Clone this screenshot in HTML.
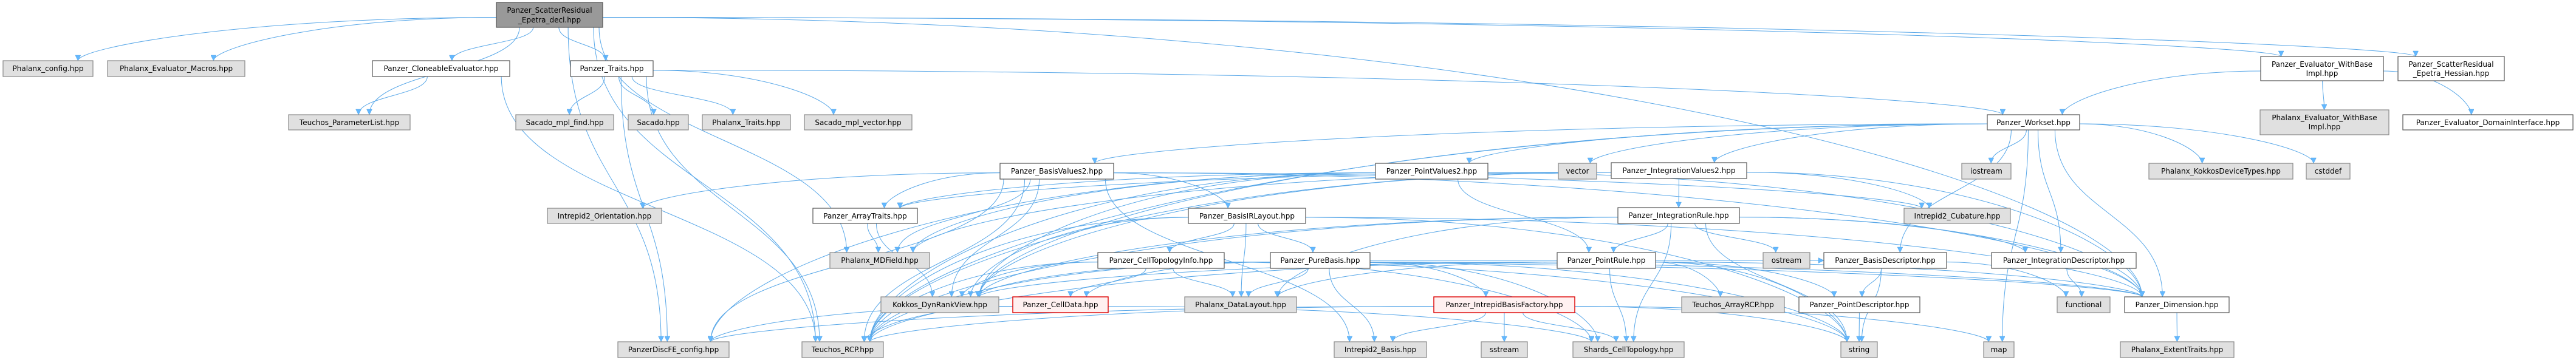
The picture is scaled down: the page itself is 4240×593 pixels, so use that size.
<!DOCTYPE html>
<html><head><meta charset="utf-8">
<style>
html,body{margin:0;padding:0;background:#fff;}
svg{display:block;}
text{font-family:"DejaVu Sans","Liberation Sans",sans-serif;font-size:12px;fill:#000;}
.w{fill:#fff;stroke:#555;stroke-width:1.2;}
.g{fill:#e0e0e0;stroke:#888;stroke-width:1.2;}
.r{fill:#fff0f0;stroke:#d00;stroke-width:1.4;}
.root{fill:#999;stroke:#555;stroke-width:1.2;}
.e{fill:none;stroke:#5aa8e8;stroke-width:1;}
</style></head><body>
<svg id="s" width="4240" height="593" viewBox="0 0 4240 593" xmlns="http://www.w3.org/2000/svg">
<defs><marker id="a" viewBox="0 0 10 10" refX="10" refY="5" markerWidth="11" markerHeight="9" orient="auto" markerUnits="userSpaceOnUse"><path d="M0,0 L10,5 L0,10 z" fill="#63b8ff" stroke="#4f9fe0" stroke-width="0.5"/></marker></defs>
<g id="edges"></g>
<g id="nodes">
<rect id="decl" class="root" x="817" y="4" width="175" height="41"/><text x="904.5" y="21" text-anchor="middle">Panzer_ScatterResidual</text><text x="904.5" y="37" text-anchor="middle">_Epetra_decl.hpp</text>
<rect id="pcfg" class="g" x="5" y="100" width="148" height="26"/><text x="79" y="117" text-anchor="middle">Phalanx_config.hpp</text>
<rect id="pmac" class="g" x="177" y="100" width="226" height="26"/><text x="290" y="117" text-anchor="middle">Phalanx_Evaluator_Macros.hpp</text>
<rect id="clone" class="w" x="613" y="100" width="226" height="26"/><text x="726" y="117" text-anchor="middle">Panzer_CloneableEvaluator.hpp</text>
<rect id="traits" class="w" x="939" y="100" width="136" height="26"/><text x="1007" y="117" text-anchor="middle">Panzer_Traits.hpp</text>
<rect id="ewb" class="w" x="3721" y="93" width="202" height="40"/><text x="3822" y="110" text-anchor="middle">Panzer_Evaluator_WithBase</text><text x="3822" y="125" text-anchor="middle">Impl.hpp</text>
<rect id="hess" class="w" x="3947" y="93" width="175" height="40"/><text x="4034.5" y="110" text-anchor="middle">Panzer_ScatterResidual</text><text x="4034.5" y="125" text-anchor="middle">_Epetra_Hessian.hpp</text>
<rect id="tpl" class="g" x="475" y="189" width="200" height="25"/><text x="575" y="206" text-anchor="middle">Teuchos_ParameterList.hpp</text>
<rect id="smf" class="g" x="849" y="189" width="161" height="25"/><text x="929.5" y="206" text-anchor="middle">Sacado_mpl_find.hpp</text>
<rect id="sac" class="g" x="1034" y="189" width="99" height="25"/><text x="1083.5" y="206" text-anchor="middle">Sacado.hpp</text>
<rect id="ptr" class="g" x="1156" y="189" width="145" height="25"/><text x="1228.5" y="206" text-anchor="middle">Phalanx_Traits.hpp</text>
<rect id="smv" class="g" x="1324" y="189" width="177" height="25"/><text x="1412.5" y="206" text-anchor="middle">Sacado_mpl_vector.hpp</text>
<rect id="ws" class="w" x="3271" y="189" width="152" height="25"/><text x="3347" y="206" text-anchor="middle">Panzer_Workset.hpp</text>
<rect id="pewb" class="g" x="3720" y="181" width="212" height="41"/><text x="3826" y="198" text-anchor="middle">Phalanx_Evaluator_WithBase</text><text x="3826" y="213" text-anchor="middle">Impl.hpp</text>
<rect id="edi" class="w" x="3955" y="189" width="280" height="25"/><text x="4095" y="206" text-anchor="middle">Panzer_Evaluator_DomainInterface.hpp</text>
<rect id="bv2" class="w" x="1646" y="269" width="187" height="26"/><text x="1739.5" y="286" text-anchor="middle">Panzer_BasisValues2.hpp</text>
<rect id="pv2" class="w" x="2264" y="269" width="185" height="26"/><text x="2356.5" y="286" text-anchor="middle">Panzer_PointValues2.hpp</text>
<rect id="vec" class="g" x="2565" y="269" width="63" height="26"/><text x="2596.5" y="286" text-anchor="middle">vector</text>
<rect id="iv2" class="w" x="2652" y="268" width="223" height="26"/><text x="2763.5" y="285" text-anchor="middle">Panzer_IntegrationValues2.hpp</text>
<rect id="ios" class="g" x="3229" y="269" width="81" height="26"/><text x="3269.5" y="286" text-anchor="middle">iostream</text>
<rect id="pkd" class="g" x="3537" y="269" width="237" height="26"/><text x="3655.5" y="286" text-anchor="middle">Phalanx_KokkosDeviceTypes.hpp</text>
<rect id="cst" class="g" x="3796" y="269" width="72" height="26"/><text x="3832" y="286" text-anchor="middle">cstddef</text>
<rect id="ior" class="g" x="901" y="343" width="188" height="25"/><text x="995" y="360" text-anchor="middle">Intrepid2_Orientation.hpp</text>
<rect id="at" class="w" x="1338" y="343" width="172" height="25"/><text x="1424" y="360" text-anchor="middle">Panzer_ArrayTraits.hpp</text>
<rect id="birl" class="w" x="1956" y="343" width="193" height="25"/><text x="2052.5" y="360" text-anchor="middle">Panzer_BasisIRLayout.hpp</text>
<rect id="ir" class="w" x="2663" y="342" width="200" height="26"/><text x="2763" y="359" text-anchor="middle">Panzer_IntegrationRule.hpp</text>
<rect id="icub" class="g" x="3134" y="343" width="175" height="25"/><text x="3221.5" y="360" text-anchor="middle">Intrepid2_Cubature.hpp</text>
<rect id="mdf" class="g" x="1366" y="416" width="164" height="26"/><text x="1448" y="433" text-anchor="middle">Phalanx_MDField.hpp</text>
<rect id="cti" class="w" x="1807" y="416" width="208" height="26"/><text x="1911" y="433" text-anchor="middle">Panzer_CellTopologyInfo.hpp</text>
<rect id="pb" class="w" x="2091" y="416" width="164" height="26"/><text x="2173" y="433" text-anchor="middle">Panzer_PureBasis.hpp</text>
<rect id="pr" class="w" x="2563" y="416" width="162" height="26"/><text x="2644" y="433" text-anchor="middle">Panzer_PointRule.hpp</text>
<rect id="ost" class="g" x="2902" y="416" width="77" height="26"/><text x="2940.5" y="433" text-anchor="middle">ostream</text>
<rect id="bd" class="w" x="3002" y="416" width="202" height="26"/><text x="3103" y="433" text-anchor="middle">Panzer_BasisDescriptor.hpp</text>
<rect id="id" class="w" x="3278" y="416" width="238" height="26"/><text x="3397" y="433" text-anchor="middle">Panzer_IntegrationDescriptor.hpp</text>
<rect id="kdr" class="g" x="1450" y="489" width="194" height="26"/><text x="1547" y="506" text-anchor="middle">Kokkos_DynRankView.hpp</text>
<rect id="cd" class="r" x="1667" y="489" width="157" height="26"/><text x="1745.5" y="506" text-anchor="middle">Panzer_CellData.hpp</text>
<rect id="dl" class="g" x="1950" y="489" width="184" height="26"/><text x="2042" y="506" text-anchor="middle">Phalanx_DataLayout.hpp</text>
<rect id="ibf" class="r" x="2360" y="489" width="232" height="26"/><text x="2476" y="506" text-anchor="middle">Panzer_IntrepidBasisFactory.hpp</text>
<rect id="arcp" class="g" x="2768" y="489" width="169" height="26"/><text x="2852.5" y="506" text-anchor="middle">Teuchos_ArrayRCP.hpp</text>
<rect id="pd" class="w" x="2961" y="489" width="199" height="26"/><text x="3060.5" y="506" text-anchor="middle">Panzer_PointDescriptor.hpp</text>
<rect id="fun" class="g" x="3386" y="489" width="87" height="26"/><text x="3429.5" y="506" text-anchor="middle">functional</text>
<rect id="dim" class="w" x="3497" y="489" width="172" height="26"/><text x="3583" y="506" text-anchor="middle">Panzer_Dimension.hpp</text>
<rect id="dfe" class="g" x="1017" y="563" width="183" height="26"/><text x="1108.5" y="580" text-anchor="middle">PanzerDiscFE_config.hpp</text>
<rect id="rcp" class="g" x="1320" y="563" width="134" height="26"/><text x="1387" y="580" text-anchor="middle">Teuchos_RCP.hpp</text>
<rect id="ib" class="g" x="2196" y="563" width="152" height="26"/><text x="2272" y="580" text-anchor="middle">Intrepid2_Basis.hpp</text>
<rect id="ss" class="g" x="2438" y="563" width="76" height="26"/><text x="2476" y="580" text-anchor="middle">sstream</text>
<rect id="sct" class="g" x="2589" y="563" width="183" height="26"/><text x="2680.5" y="580" text-anchor="middle">Shards_CellTopology.hpp</text>
<rect id="str" class="g" x="3030" y="563" width="60" height="26"/><text x="3060" y="580" text-anchor="middle">string</text>
<rect id="map" class="g" x="3265" y="563" width="50" height="26"/><text x="3290" y="580" text-anchor="middle">map</text>
<rect id="pet" class="g" x="3490" y="563" width="187" height="26"/><text x="3583.5" y="580" text-anchor="middle">Phalanx_ExtentTraits.hpp</text>
</g>
</svg>
<script>
(function(){
var E={
decl:["pcfg","pmac","tpl","clone","traits","ewb","hess","mdf","dfe","rcp","dim"],
clone:["tpl","rcp"],
traits:["smf","sac","ptr","smv","ws","dfe","rcp"],
ewb:["ws","pewb","edi"],
ws:["bv2","pv2","vec","iv2","ios","pkd","cst","bd","id","dim","map","rcp","kdr"],
bv2:["ior","at","mdf","birl","kdr","dfe","rcp","ib","dim","icub"],
pv2:["at","mdf","pr","dim","rcp","dfe","kdr"],
iv2:["ir","at","mdf","icub","dim","rcp","kdr"],
at:["mdf","kdr"],
birl:["cti","pb","dl","rcp","kdr","dim","str"],
ir:["pr","ost","id","rcp","kdr","str","dim","dl","sct"],
cti:["cd","kdr","dl","rcp","sct","str","dim"],
pb:["ibf","ib","dl","rcp","kdr","str","dim","cd","bd","sct"],
pr:["arcp","pd","dl","rcp","kdr","sct","str","dim"],
cd:["dfe","rcp","sct"],
ibf:["ib","ss","sct","str","map","rcp","dfe"],
bd:["pd","str","fun"],
id:["fun"],
pd:["str"],
dim:["pet"]
};
var ns="http://www.w3.org/2000/svg",g=document.getElementById("edges");
function box(id){var r=document.getElementById(id);return{x:+r.getAttribute("x"),y:+r.getAttribute("y"),w:+r.getAttribute("width"),h:+r.getAttribute("height")};}
for(var s in E){var a=box(s);var list=E[s];
for(var i=0;i<list.length;i++){var b=box(list[i]);var d;
var acx=a.x+a.w/2,bcx=b.x+b.w/2;
if(b.y>a.y+a.h-2){
var dx=bcx-acx,dy=b.y-(a.y+a.h);
var sx,sy,tx=bcx+Math.max(-b.w/3,Math.min(b.w/3,(acx-bcx)*0.1)),ty=b.y;
if(Math.abs(dx)>2.5*dy+a.w/2){
sx=dx>0?a.x+a.w:a.x;sy=a.y+a.h*0.6;
d="M"+sx+","+sy+" C"+(sx+(tx-sx)*0.6)+","+sy+" "+tx+","+(ty-dy*0.4)+" "+tx+","+ty;
}else{
sx=acx+Math.max(-a.w/2+6,Math.min(a.w/2-6,dx*0.15));sy=a.y+a.h;
var m=(ty-sy)*0.5;
d="M"+sx+","+sy+" C"+sx+","+(sy+m)+" "+tx+","+(ty-m)+" "+tx+","+ty;}
}else{
var sx=acx<bcx?a.x+a.w:a.x,sy=a.y+a.h/2,tx=acx<bcx?b.x:b.x+b.w,ty=b.y+b.h/2;
d="M"+sx+","+sy+" C"+((sx+tx)/2)+","+sy+" "+((sx+tx)/2)+","+ty+" "+tx+","+ty;}
var p=document.createElementNS(ns,"path");p.setAttribute("d",d);p.setAttribute("class","e");p.setAttribute("marker-end","url(#a)");g.appendChild(p);}}
})();
</script>
</body></html>
